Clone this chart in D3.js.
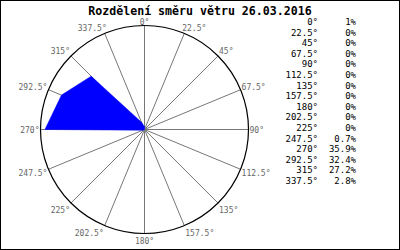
<!DOCTYPE html>
<html>
<head>
<meta charset="utf-8">
<script src="https://cdn.jsdelivr.net/npm/d3@7"></script>
<style>
  body { margin: 0; background: #fff; }
  svg { display: block; }
  text { font-family: "DejaVu Sans Mono", monospace; }
</style>
</head>
<body>
<svg id="chart" width="400" height="250"></svg>
<script>
// directions (degrees) and share of wind in each (%)
const directions = [0, 22.5, 45, 67.5, 90, 112.5, 135, 157.5, 180, 202.5, 225, 247.5, 270, 292.5, 315, 337.5];
const shares = [1, 0, 0, 0, 0, 0, 0, 0, 0, 0, 0, 0.7, 35.9, 32.4, 27.2, 2.8];
const shareLabels = ["1%", "0%", "0%", "0%", "0%", "0%", "0%", "0%", "0%", "0%", "0%", "0.7%", "35.9%", "32.4%", "27.2%", "2.8%"];
const title = "Rozdělení směru větru 26.03.2016";

const svg = d3.select("#chart");
const cx = 144.5, cy = 129.5, R = 104;

svg.append("rect")
    .attr("x", 0.5).attr("y", 0.5)
    .attr("width", 399).attr("height", 249)
    .attr("fill", "#fff").attr("stroke", "#000");

svg.append("text")
    .attr("x", 200).attr("y", 15)
    .attr("text-anchor", "middle")
    .attr("font-size", 11.6).attr("font-weight", "bold")
    .attr("fill", "#000")
    .text(title);

const g = svg.append("g").attr("transform", `translate(${cx},${cy})`);

// compass angle -> radians measured clockwise from north
const angle = d3.scaleLinear().domain([0, 360]).range([0, 2 * Math.PI]);
const r = d3.scaleLinear().domain([0, 37.5]).range([0, R]);

const fmt = d => `${d}°`;

// spokes
g.selectAll("line.spoke")
    .data(directions)
    .join("line")
    .attr("class", "spoke")
    .attr("x1", 0).attr("y1", 0)
    .attr("x2", d => R * Math.sin(angle(d)))
    .attr("y2", d => -R * Math.cos(angle(d)))
    .attr("stroke", "#777").attr("stroke-width", 1);

// data polygon
const radial = d3.lineRadial()
    .angle((d, i) => angle(directions[i]))
    .radius(d => r(d))
    .curve(d3.curveLinearClosed);

g.append("path")
    .attr("d", radial(shares))
    .attr("fill", "#0000ff")
    .attr("stroke", "#0000ff")
    .attr("stroke-width", 0.5);

g.append("circle")
    .attr("r", R)
    .attr("fill", "none")
    .attr("stroke", "#000").attr("stroke-width", 1.2);

// direction labels around the circle: above the rim on the top half, below it on the bottom half
g.selectAll("text.dir")
    .data(directions)
    .join("text")
    .attr("class", "dir")
    .attr("font-size", 8)
    .attr("fill", "#666")
    .attr("x", d => {
        const s = Math.sin(angle(d)), c = Math.cos(angle(d));
        if (Math.abs(s) < 0.01) return 0;
        const nudge = c > 0.9 ? -2 : 1;
        return R * s + (s > 0 ? nudge : -nudge);
    })
    .attr("y", d => {
        const c = Math.cos(angle(d));
        const py = -R * c;
        if (c > 0.99) return py - 1;
        if (c >= 0) return py + 3 - 5 * Math.min(1, c * 1.4);
        return py + 3 + 7 * Math.min(1, -c * 1.4);
    })
    .attr("text-anchor", d => {
        const s = Math.sin(angle(d));
        return Math.abs(s) < 0.01 ? "middle" : (s > 0 ? "start" : "end");
    })
    .text(fmt);

// legend table
const rowY = d3.scaleLinear().domain([0, directions.length - 1]).range([25, 184]);
const legend = svg.append("g");
legend.selectAll("text.ldir")
    .data(directions)
    .join("text")
    .attr("class", "ldir")
    .attr("x", 318).attr("y", (d, i) => rowY(i))
    .attr("text-anchor", "end")
    .attr("font-size", 9).attr("fill", "#000")
    .text(fmt);
legend.selectAll("text.lval")
    .data(shareLabels)
    .join("text")
    .attr("class", "lval")
    .attr("x", 356).attr("y", (d, i) => rowY(i))
    .attr("text-anchor", "end")
    .attr("font-size", 9).attr("fill", "#000")
    .text(d => d);
</script>
</body>
</html>
